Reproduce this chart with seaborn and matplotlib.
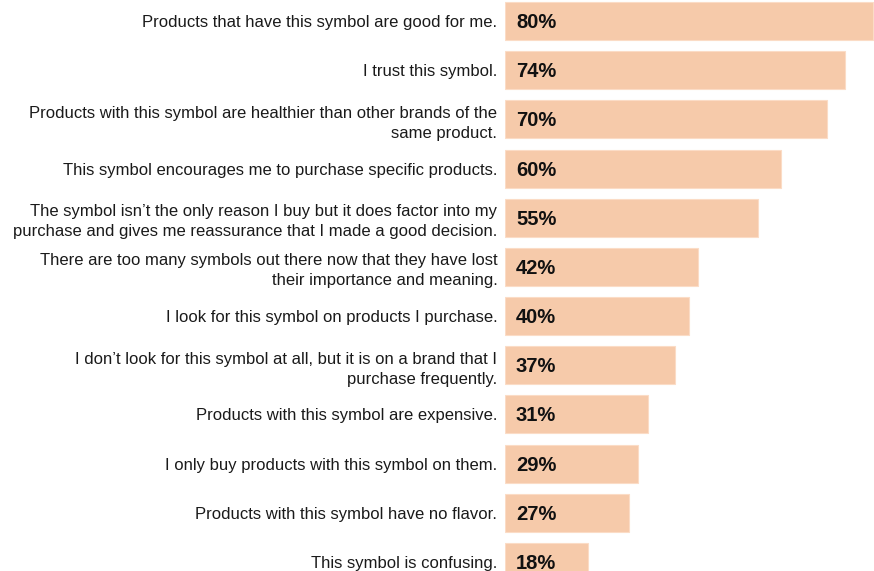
import matplotlib
matplotlib.use("Agg")
import matplotlib.pyplot as plt
import seaborn as sns
import pandas as pd

statements = [
    "Products that have this symbol are good for me.",
    "I trust this symbol.",
    "Products with this symbol are healthier than other brands of the\nsame product.",
    "This symbol encourages me to purchase specific products.",
    "The symbol isn\u2019t the only reason I buy but it does factor into my\npurchase and gives me reassurance that I made a good decision.",
    "There are too many symbols out there now that they have lost\ntheir importance and meaning.",
    "I look for this symbol on products I purchase.",
    "I don\u2019t look for this symbol at all, but it is on a brand that I\npurchase frequently.",
    "Products with this symbol are expensive.",
    "I only buy products with this symbol on them.",
    "Products with this symbol have no flavor.",
    "This symbol is confusing.",
]
percent = [80, 74, 70, 60, 55, 42, 40, 37, 31, 29, 27, 18]
pct_labels = ["80%", "74%", "70%", "60%", "55%", "42%", "40%", "37%", "31%", "29%", "27%", "18%"]

sns.set_style("white")
plt.rcParams['font.family'] = ['Liberation Sans', 'DejaVu Sans']

df = pd.DataFrame({"statement": statements, "percent": percent})

fig = plt.figure(figsize=(8.74, 5.71), dpi=100)
ax = fig.add_axes([505 / 874, 0, 369 / 874, 1])

sns.barplot(data=df, x="percent", y="statement", color="#F6CAAA", saturation=1,
            width=0.773, ax=ax, edgecolor="#FBDCC6", linewidth=0.8)

ax.set_xlim(0, 80.2)
ax.set_ylim(11.183, -0.427)
ax.set_xlabel("")
ax.set_ylabel("")
ax.set_xticks([])
for s in ax.spines.values():
    s.set_visible(False)
ax.tick_params(axis="y", length=0, pad=5.5, labelsize=12, labelcolor="#1a1a1a")
for t in ax.get_yticklabels():
    t.set_linespacing(1.4)

for i, lab in enumerate(pct_labels):
    ax.annotate(lab, xy=(0, i), xytext=(11, -1.5), textcoords="offset pixels",
                ha="left", va="center", fontsize=14.5, fontweight="bold", color="#111111")

fig.savefig("out.png", dpi=100)
